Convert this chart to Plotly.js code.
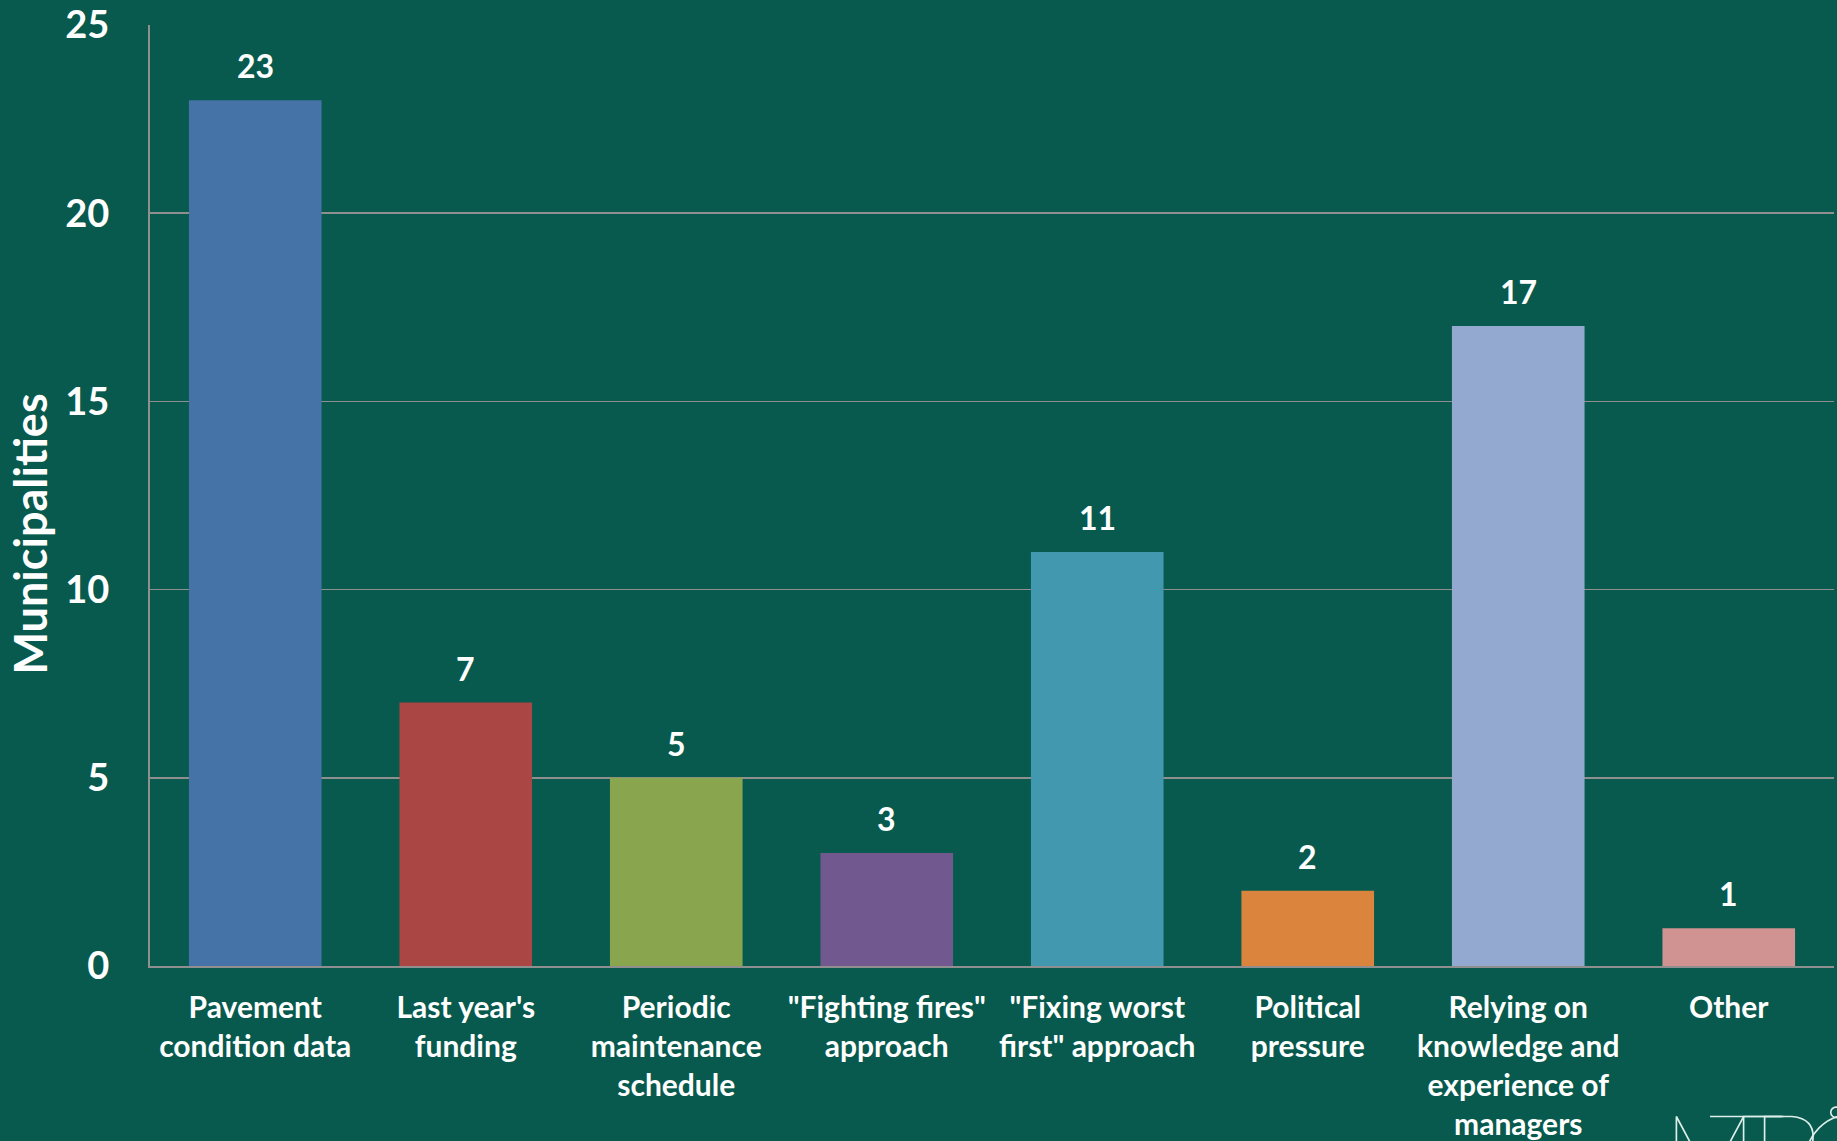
<!DOCTYPE html>
<html>
<head>
<meta charset="utf-8">
<script src="https://cdn.plot.ly/plotly-3.0.1.min.js"></script>
<style>html,body{margin:0;padding:0;background:#075A4D;}</style>
</head>
<body>
<div id="chart" style="width:1837px;height:1141px;"></div>
<script>
const categories = [
  "Pavement<br>condition data",
  "Last year's<br>funding",
  "Periodic<br>maintenance<br>schedule",
  "\"Fighting fires\"<br>approach",
  "\"Fixing worst<br>first\" approach",
  "Political<br>pressure",
  "Relying on<br>knowledge and<br>experience of<br>managers",
  "Other"
];
const municipalities = [23, 7, 5, 3, 11, 2, 17, 1];
const barColors = ["#4572A7", "#AA4643", "#89A54E", "#71588F", "#4198AF", "#DB843D", "#93A9CF", "#D19392"];
const yTicks = [0, 5, 10, 15, 20, 25];

const FONT = "Lato, 'Open Sans', sans-serif";

const trace = {
  type: "bar",
  x: categories,
  y: municipalities,
  marker: {color: barColors, line: {width: 0}},
  hoverinfo: "skip"
};

const valueLabels = categories.map((c, i) => ({
  x: c, y: municipalities[i], xref: "x", yref: "y",
  text: String(municipalities[i]), showarrow: false,
  yanchor: "bottom", yshift: 13,
  font: {family: FONT, size: 32, color: "#FFFFFF", weight: 700}
}));

const logoSvg = '<svg xmlns="http://www.w3.org/2000/svg" width="200" height="80" viewBox="0 0 200 80">' +
  '<g fill="none" stroke="#DDEFEA" stroke-width="1.6">' +
  '<path d="M8 78 L8 10 L40 70 L72 10 L110 10"/>' +
  '<path d="M40 10 L108 10"/>' +
  '<path d="M72 10 L72 78"/>' +
  '<path d="M92 78 L92 10 L118 10 Q140 12 138 32 Q136 50 112 50 L92 50"/>' +
  '<circle cx="175" cy="52" r="44"/>' +
  '<circle cx="160" cy="6" r="5"/>' +
  '</g>' +
  '<path d="M138 50 Q150 40 165 42 Q180 30 198 22 L200 80 L140 80 Z" fill="#A9D9C9"/>' +
  '</svg>';

const layout = {
  width: 1837,
  height: 1141,
  paper_bgcolor: "#075A4D",
  plot_bgcolor: "#075A4D",
  margin: {l: 150, r: 3, t: 25, b: 175, pad: 0},
  showlegend: false,
  bargap: 0.37,
  font: {family: FONT, color: "#FFFFFF"},
  xaxis: {
    type: "category",
    showgrid: false,
    showline: true,
    linecolor: "#8F8F8F",
    linewidth: 2,
    ticks: "",
    ticklabelstandoff: 14,
    tickfont: {family: FONT, size: 30, color: "#FFFFFF", weight: 700},
    fixedrange: true
  },
  yaxis: {
    range: [0, 25],
    tickvals: yTicks,
    ticktext: yTicks.map(String),
    showgrid: true,
    gridcolor: "#8F8F8F",
    gridwidth: 1.5,
    zeroline: false,
    showline: true,
    linecolor: "#8F8F8F",
    linewidth: 2,
    ticks: "",
    ticklabelstandoff: 31,
    tickfont: {family: FONT, size: 38, color: "#FFFFFF", weight: 700},
    fixedrange: true
  },
  annotations: valueLabels.concat([{
    xref: "paper", yref: "paper", x: -0.071, y: 0.459,
    xanchor: "center", yanchor: "middle",
    text: "Municipalities", textangle: -90, showarrow: false,
    font: {family: FONT, size: 45, color: "#FFFFFF", weight: 700}
  }]),
  images: [{
    source: "data:image/svg+xml;charset=utf-8," + encodeURIComponent(logoSvg),
    xref: "paper", yref: "paper",
    x: (1668 - 150) / (1837 - 153), y: -(1106 - 966) / (966 - 25),
    sizex: 210 / (1837 - 153), sizey: 84 / (966 - 25),
    xanchor: "left", yanchor: "top", sizing: "stretch", layer: "above"
  }]
};

Plotly.newPlot("chart", [trace], layout, {displayModeBar: false, staticPlot: true});
</script>
</body>
</html>
